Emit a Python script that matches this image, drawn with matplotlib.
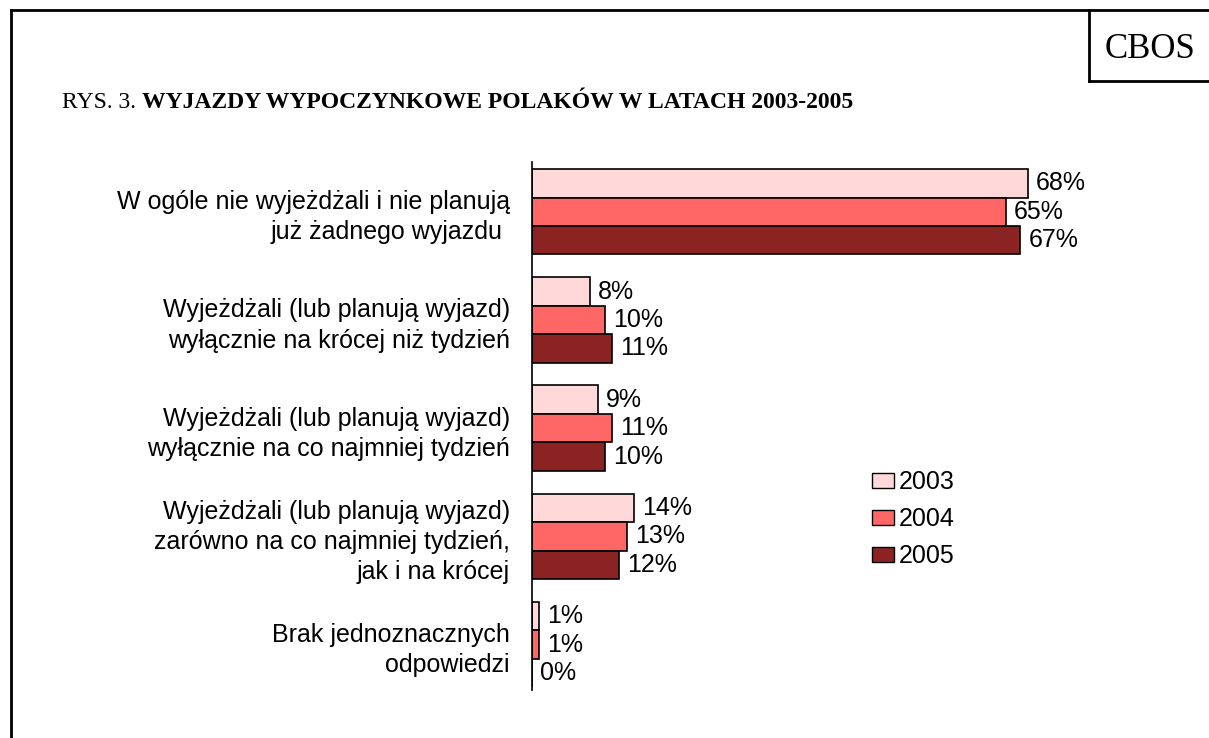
import matplotlib.pyplot as plt
import numpy as np
from matplotlib.lines import Line2D
from matplotlib.patches import Patch

categories = [
    "W ogóle nie wyjeżdżali i nie planują\njuż żadnego wyjazdu ",
    "Wyjeżdżali (lub planują wyjazd)\nwyłącznie na krócej niż tydzień",
    "Wyjeżdżali (lub planują wyjazd)\nwyłącznie na co najmniej tydzień",
    "Wyjeżdżali (lub planują wyjazd)\nzarówno na co najmniej tydzień,\njak i na krócej",
    "Brak jednoznacznych\nodpowiedzi",
]
years = ["2003", "2004", "2005"]
v2003 = [68, 8, 9, 14, 1]
v2004 = [65, 10, 11, 13, 1]
v2005 = [67, 11, 10, 12, 0]
colors = ["#FFD9D9", "#FF6666", "#8B2323"]

W, H = 1209, 738
fig = plt.figure(figsize=(W / 100, H / 100), dpi=100)
plt.rcParams['font.family'] = ['Liberation Sans', 'DejaVu Sans']

# axes placed in pixel terms
ax_left, ax_right, ax_top, ax_bot = 532, 1100, 162, 690
ax = fig.add_axes([ax_left / W, 1 - ax_bot / H, (ax_right - ax_left) / W, (ax_bot - ax_top) / H])

y = np.arange(len(categories))
h = 0.263
series = [v2003, v2004, v2005]
for i, (vals, col, yr) in enumerate(zip(series, colors, years)):
    pos = y + (i - 1) * h
    ax.barh(pos, vals, height=h, color=col, edgecolor='black', linewidth=1.2, label=yr)
    for p, v in zip(pos, vals):
        ax.text(v + 1.1, p, f"{v}%", va='center', ha='left', fontsize=18)

ax.set_xlim(0, (ax_right - ax_left) / 7.29)
ax.set_ylim(4.42, -0.46)
ax.set_yticks(y)
ax.set_yticklabels(categories, fontsize=18, ha='right', multialignment='right', linespacing=1.32)
ax.tick_params(axis='y', length=0, pad=16)
ax.set_xticks([])
for s in ['top', 'right', 'bottom']:
    ax.spines[s].set_visible(False)
ax.spines['left'].set_linewidth(1.2)

handles = [Patch(facecolor=c, edgecolor='black', label=yr) for c, yr in zip(colors, years)]
fig.legend(handles=handles, loc='upper left', bbox_to_anchor=(872 / W, 1 - 470 / H),
           frameon=False, fontsize=18, handlelength=0.88, handleheight=0.56,
           handletextpad=0.2, labelspacing=0.52, borderpad=0, borderaxespad=0)

# page frame and CBOS box
lw = 2
fig.add_artist(Line2D([11 / W, 11 / W], [0, 1 - 10 / H], color='black', lw=lw))
fig.add_artist(Line2D([11 / W, 1], [1 - 10 / H, 1 - 10 / H], color='black', lw=lw))
fig.add_artist(Line2D([1089 / W, 1089 / W], [1 - 10 / H, 1 - 81 / H], color='black', lw=lw))
fig.add_artist(Line2D([1089 / W, 1], [1 - 81 / H, 1 - 81 / H], color='black', lw=lw))
fig.text(1150 / W, 1 - 49 / H, "CBOS", ha='center', va='center', fontsize=25, family='Liberation Serif')

t1 = fig.text(62 / W, 1 - 102 / H, "RYS. 3. ", ha='left', va='center', fontsize=17, family='Liberation Serif')
fig.canvas.draw()
bb = t1.get_window_extent()
fig.text(bb.x1 / W, 1 - 102 / H, "WYJAZDY WYPOCZYNKOWE POLAKÓW W LATACH 2003-2005",
         ha='left', va='center', fontsize=17, family='Liberation Serif', weight='bold')

fig.savefig("out.png", dpi=100)
